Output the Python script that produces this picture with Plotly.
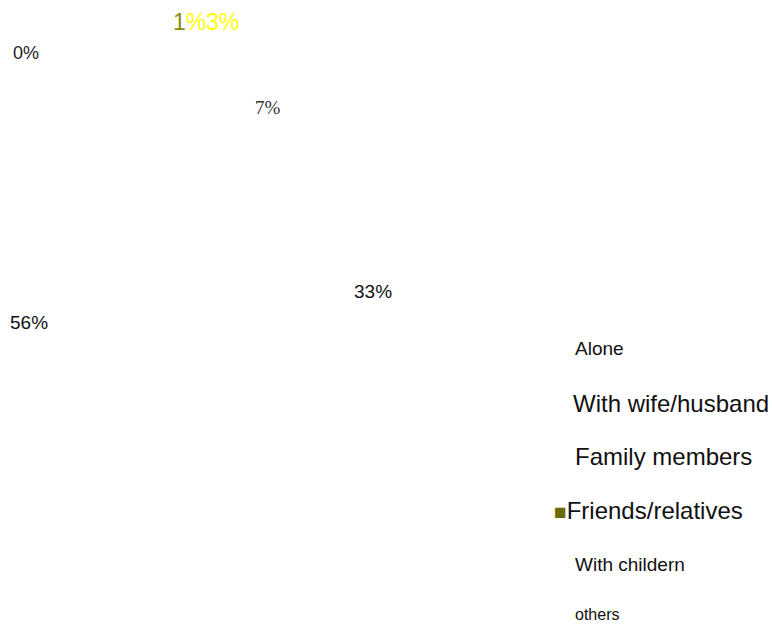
import plotly.graph_objects as go

# ---- data ----
categories = ["Alone", "With wife/husband", "Family members", "Friends/relatives", "With childern", "others"]
values = [7, 56, 33, 1, 3, 0]

# ---- styles / positions (pixels, top-left origin; x = left edge of glyphs) ----
W, H = 772, 624
SANS = "Liberation Sans, Arial, sans-serif"
SERIF = "Liberation Serif, Times New Roman, serif"
label_pos = {  # (left x, centre y)
    "Alone": (256, 107),
    "With wife/husband": (11, 322),
    "Family members": (355, 291),
    "Friends/relatives": (174, 22),
    "With childern": (207, 22),
    "others": (14, 53),
}
label_font = {
    "Alone": dict(family=SERIF, size=19, color="#333333"),
    "With wife/husband": dict(family=SANS, size=19, color="#111111"),
    "Family members": dict(family=SANS, size=19, color="#111111"),
    "Friends/relatives": dict(family=SANS, size=23, color="#8C8C00"),
    "With childern": dict(family=SANS, size=23, color="#FFFF00"),
    "others": dict(family=SANS, size=18, color="#222222"),
}
legend_pos = {  # (left x, centre y, font size)
    "Alone": (576, 348, 19),
    "With wife/husband": (574, 403, 24),
    "Family members": (576, 456, 24),
    "Friends/relatives": (555, 510, 24),
    "With childern": (576, 564, 19),
    "others": (576, 614, 16),
}

fig = go.Figure()
# pie with white (invisible) slices, as in the reference
fig.add_trace(go.Pie(
    labels=categories, values=values, sort=False, direction="clockwise",
    marker=dict(colors=["#FFFFFF"] * len(categories), line=dict(color="#FFFFFF", width=0)),
    textinfo="none", showlegend=False, hoverinfo="label+percent",
    domain=dict(x=[0.05, 0.6], y=[0.3, 0.95]),
))

annotations = []
for cat, v in zip(categories, values):
    x, y = label_pos[cat]
    f = label_font[cat]
    if cat == "Friends/relatives":
        txt = f"{v}<span style='color:#FFFF00'>%</span>"
    else:
        txt = f"{v}%"
    annotations.append(dict(
        text=txt, x=(x - 2) / W, y=1 - y / H, xref="paper", yref="paper",
        xanchor="left", yanchor="middle", showarrow=False, font=f,
        borderpad=0,
    ))

for cat in categories:
    x, y, s = legend_pos[cat]
    txt = cat
    if cat == "Friends/relatives":
        txt = "<span style='color:#6B6B00; font-size:21px'>■</span>" + cat
    annotations.append(dict(
        text=txt, x=(x - 3) / W, y=1 - y / H, xref="paper", yref="paper",
        xanchor="left", yanchor="middle", showarrow=False,
        font=dict(family=SANS, size=s, color="#111111"),
    ))

fig.update_layout(
    width=W, height=H, margin=dict(l=0, r=0, t=0, b=0),
    paper_bgcolor="white", plot_bgcolor="white",
    annotations=annotations, showlegend=False,
)
fig.write_html("out.html")
